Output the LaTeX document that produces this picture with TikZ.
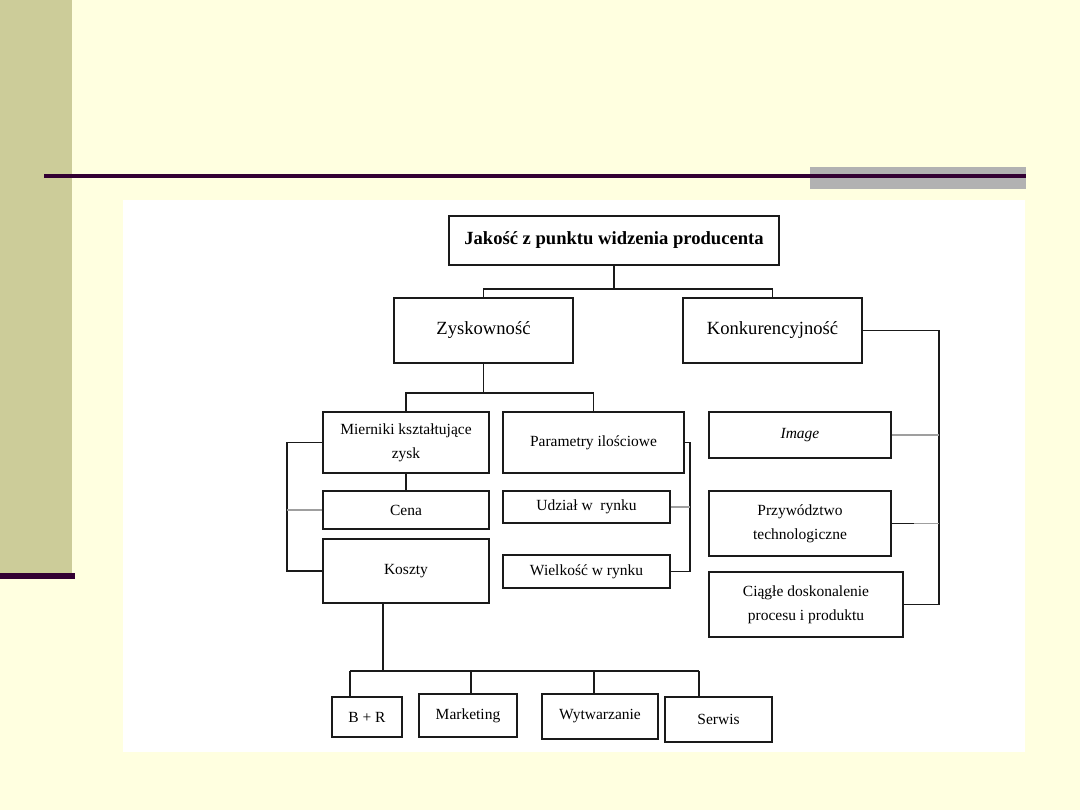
\documentclass[tikz,border=0pt]{standalone}
\usepackage{fontspec}
\setmainfont{Liberation Serif}
\definecolor{pagebg}{HTML}{FFFFE0}
\definecolor{bandcol}{HTML}{CCCC99}
\definecolor{barcol}{HTML}{330033}
\definecolor{greyblock}{HTML}{B2B2B2}
\definecolor{boxline}{HTML}{1A1A1A}
\begin{document}
\begin{tikzpicture}[x=1pt,y=-1pt,line join=miter]
			\tikzset{box/.style={draw=boxline,line width=1.8pt,fill=white,inner sep=0pt,align=center,font=\fontsize{15.5}{24}\selectfont},
				bigbox/.style={box,font=\fontsize{18.6}{22}\selectfont},
				link/.style={draw=boxline,line width=1.8pt},
				greylink/.style={draw=gray!75,line width=1.6pt}}
			\useasboundingbox (0,0) rectangle (1080,810);
			% slide background
			\fill[pagebg] (0,0) rectangle (1080,810);
			\fill[bandcol] (0,0) rectangle (72,573);
			\fill[barcol] (0,573) rectangle (75,579);
			\fill[greyblock] (810,167) rectangle (1026,189);
			\fill[barcol] (44,174) rectangle (1026,178);
			\fill[white] (123,200) rectangle (1025,752);
			% boxes
			\node[bigbox,font=\bfseries\fontsize{18.6}{22}\selectfont,minimum width=330,minimum height=49] (title) at (614,240.5) {Jakość z punktu widzenia producenta};
			\node[bigbox,minimum width=179,minimum height=65] (zysk) at (483.5,330.5) {Zyskowność};
			\node[bigbox,minimum width=179,minimum height=65] (konk) at (772.5,330.5) {Konkurencyjność};
			\node[box,minimum width=166,minimum height=61] (miern) at (406,442.5) {Mierniki kształtujące\\zysk};
			\node[box,minimum width=181,minimum height=61] (param) at (593.5,442.5) {Parametry ilościowe};
			\node[box,minimum width=166,minimum height=38] (cena) at (406,510) {Cena};
			\node[box,minimum width=166,minimum height=64] (koszty) at (406,571) {Koszty};
			\node[box,minimum width=167,minimum height=32] (udzial) at (586.5,507) {Udział w~~rynku};
			\node[box,minimum width=167,minimum height=33] (wielk) at (586.5,571.5) {Wielkość w rynku};
			\node[box,minimum width=182,minimum height=46] (image) at (800,435) {\itshape Image};
			\node[box,minimum width=182,minimum height=65] (przyw) at (800,523.5) {Przywództwo\\technologiczne};
			\node[box,minimum width=194,minimum height=65] (ciagle) at (806,604.5) {Ciągłe doskonalenie\\procesu i produktu};
			\node[box,minimum width=70,minimum height=40] (br) at (367,717) {B + R};
			\node[box,minimum width=98,minimum height=43] (mark) at (468,715.5) {Marketing};
			\node[box,minimum width=116,minimum height=45] (wytw) at (600,716.5) {Wytwarzanie};
			\node[box,minimum width=107,minimum height=45] (serw) at (718.5,719.5) {Serwis};
			% connectors
			\draw[link] (title.south) -- ++(0,23) coordinate (t1);
			\draw[link] (zysk.north) |- (t1) -| (konk.north);
			\draw[link] (zysk.south) -- ++(0,29) coordinate (z1);
			\draw[link] (miern.north) |- (z1) -| (param.north);
			\draw[link] (miern.south) -- (cena.north);
			\draw[link] (miern.west) -- ++(-35,0) coordinate (ml) |- (koszty.west);
			\draw[greylink] (cena.west) -- (cena.west -| ml);
			\draw[link] (param.east) -- ++(5,0) coordinate (pr) |- (wielk.east);
			\draw[greylink] (udzial.east) -- (udzial.east -| pr);
			\draw[link] (konk.east) -- ++(76,0) coordinate (kr) |- (ciagle.east);
			\draw[greylink] (image.east) -- (image.east -| kr);
			\draw[greylink] (przyw.east) -- (przyw.east -| kr);
			\draw[link] (przyw.east) -- ++(22,0);
			\coordinate (k1) at (383,671);
			\draw[link] (k1 |- koszty.south) -- (k1);
			\coordinate (bl) at (350,671);
			\coordinate (bre) at (699,671);
			\draw[link] (bl) -- (bre);
			\foreach \n/\x in {br/350,mark/471,wytw/594,serw/699}
			\draw[link] (\x,671) -- (\x,671 |- \n.north);
		\end{tikzpicture}
\end{document}
